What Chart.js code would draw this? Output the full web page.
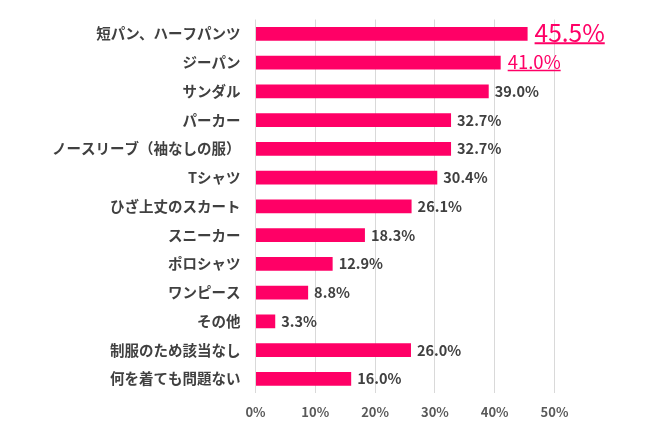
<!DOCTYPE html>
<html><head><meta charset="utf-8">
<script src="https://cdn.jsdelivr.net/npm/chart.js@4"></script>
<style>html,body{margin:0;padding:0;background:#fff;}#wrap{width:650px;height:436px;}</style>
</head><body><div id="wrap"><canvas id="c" width="650" height="436"></canvas></div>
<script>
const categories = ["短パン、ハーフパンツ","ジーパン","サンダル","パーカー","ノースリーブ（袖なしの服）","Tシャツ","ひざ上丈のスカート","スニーカー","ポロシャツ","ワンピース","その他","制服のため該当なし","何を着ても問題ない"];
const values = [45.5,41.0,39.0,32.7,32.7,30.4,26.1,18.3,12.9,8.8,3.3,26.0,16.0];
const tickValues = [0,10,20,30,40,50];
const highlighted = [0,1];

const FONT = '"Noto Sans CJK JP", "Noto Sans", sans-serif';
const labelPlugin = {
  id: 'valueLabels',
  afterDatasetsDraw(chart) {
    const ctx = chart.ctx;
    const meta = chart.getDatasetMeta(0);
    meta.data.forEach((bar, i) => {
      const txt = values[i].toFixed(1) + '%';
      ctx.save();
      ctx.textBaseline = 'middle';
      ctx.textAlign = 'left';
      let size = 14.5, color = '#404040', weight = 'bold', dx = 6, dy = 0, lw = 0;
      if (i === 0) { size = 24.5; color = '#FF0066'; weight = 'normal'; dx = 7; dy = -1.5; lw = 2; }
      else if (i === 1) { size = 18.5; color = '#FF0066'; weight = 'normal'; dx = 7; dy = -1; lw = 1.5; }
      ctx.font = weight + ' ' + size + 'px ' + FONT;
      ctx.fillStyle = color;
      const x = bar.x + dx, y = bar.y + dy;
      ctx.fillText(txt, x, y);
      if (highlighted.includes(i)) {
        const w = ctx.measureText(txt).width;
        ctx.strokeStyle = color;
        ctx.lineWidth = lw;
        ctx.beginPath();
        const uy = y + size * 0.365 + 2;
        ctx.moveTo(x, uy); ctx.lineTo(x + w, uy);
        ctx.stroke();
      }
      ctx.restore();
    });
  }
};

new Chart(document.getElementById('c'), {
  type: 'bar',
  data: { labels: categories, datasets: [{ data: values, backgroundColor: '#FF0066', barPercentage: 0.48, categoryPercentage: 1.0 }] },
  options: {
    indexAxis: 'y', responsive: false, animation: false,
    layout: { padding: { left: 0, right: 95.5, top: 19.5, bottom: 12.7 } },
    plugins: { legend: { display: false }, tooltip: { enabled: false } },
    scales: {
      x: {
        min: 0, max: 50,
        afterBuildTicks(s) { s.ticks = tickValues.map(v => ({ value: v })); },
        afterFit(s) { s.height = 30; s.paddingLeft = 0; s.paddingRight = 0; },
        grid: { color: '#d9d9d9', drawTicks: false, lineWidth: 1 },
        border: { display: false },
        ticks: { padding: 11, color: '#595959', font: { family: FONT, size: 13, weight: 'bold' }, callback: v => v + '%' }
      },
      y: {
        grid: { display: false, drawTicks: false }, border: { display: false },
        afterFit(s) { s.width = 255.5; s.paddingTop = 0; s.paddingBottom = 0; },
        ticks: { padding: 15, color: '#404040', font: { family: FONT, size: 14.5, weight: 'bold' } }
      }
    }
  },
  plugins: [labelPlugin]
});
</script></body></html>
